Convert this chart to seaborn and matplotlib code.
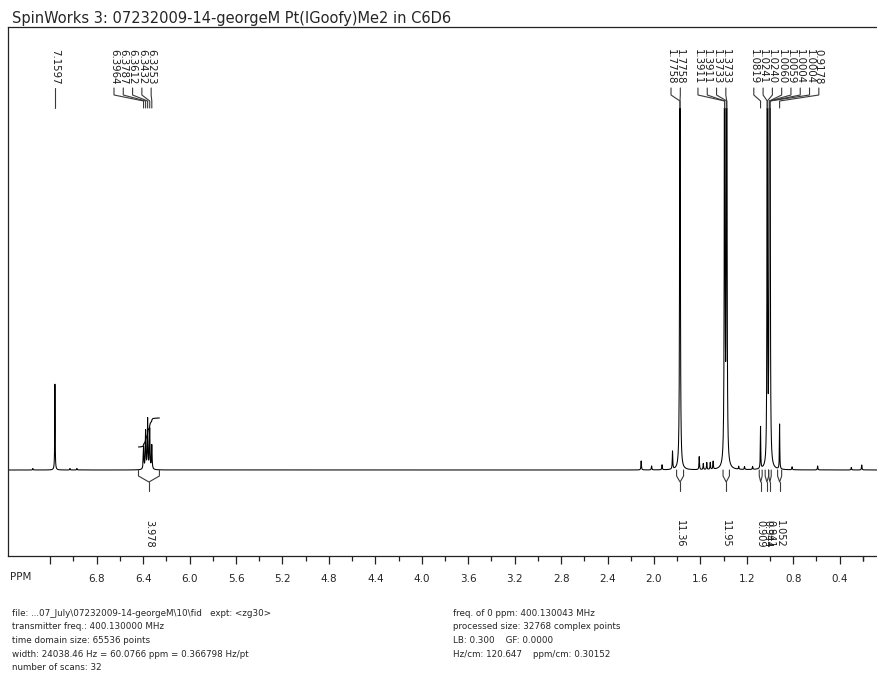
import numpy as np
import pandas as pd
import matplotlib
matplotlib.use("Agg")
import matplotlib.pyplot as plt
from matplotlib.patches import Rectangle
from matplotlib.ticker import FixedLocator
import seaborn as sns

# ---------------------------------------------------------------- data
title = "SpinWorks 3: 07232009-14-georgeM Pt(IGoofy)Me2 in C6D6"

# picked peaks: shift (ppm), height (display units above baseline), half-width (ppm)
peak_ppm = [7.1597, 6.3964, 6.3787, 6.3612, 6.3432, 6.3253,
            1.7758, 1.7758, 1.3911, 1.3911, 1.3733, 1.3733,
            1.0819, 1.0241, 1.0240, 1.0060, 1.0059, 1.0004, 1.0004, 0.9178]
peak_height = [86, 22, 38, 50, 40, 24,
               450, 450, 400, 400, 400, 400,
               42, 420, 420, 420, 420, 420, 420, 45]
peak_width = [0.0020, 0.0030, 0.0030, 0.0030, 0.0030, 0.0030,
              0.0022, 0.0022, 0.0024, 0.0024, 0.0024, 0.0024,
              0.0020, 0.0018, 0.0018, 0.0018, 0.0018, 0.0018, 0.0018, 0.0020]
peak_labels = ["7.1597", "6.3964", "6.3787", "6.3612", "6.3432", "6.3253",
               "1.7758", "1.7758", "1.3911", "1.3911", "1.3733", "1.3733",
               "1.0819", "1.0241", "1.0240", "1.0060", "1.0059", "1.0004", "1.0004", "0.9178"]
label_group = [0, 1, 1, 1, 1, 1, 2, 2, 3, 3, 3, 3, 4, 4, 4, 4, 4, 4, 4, 4]

# small unlabelled signals
minor_ppm = [7.35, 7.03, 6.97, 2.11, 2.02, 1.93, 1.84, 1.61, 1.575, 1.545,
             1.515, 1.49, 1.27, 1.22, 1.15, 0.81, 0.59, 0.30, 0.21]
minor_height = [1.5, 1.5, 1.5, 9, 4, 5, 18, 13, 6, 7, 7, 8, 3, 3, 3, 3, 4, 2.5, 5]

# integral regions (ppm) and their values
int_start = [6.44, 1.805, 1.405, 1.093, 1.042, 1.012, 0.935]
int_end = [6.26, 1.745, 1.350, 1.068, 1.012, 0.990, 0.900]
int_value = ["3.978", "11.36", "11.95", "0.909", "0.944", "0.941", "1.052"]

tick_labels = ["7.2", "6.8", "6.4", "6.0", "5.6", "5.2", "4.8", "4.4", "4.0",
               "3.6", "3.2", "2.8", "2.4", "2.0", "1.6", "1.2", "0.8", "0.4"]

footer_left = ["file: ...07_July\\07232009-14-georgeM\\10\\fid   expt: <zg30>",
               "transmitter freq.: 400.130000 MHz",
               "time domain size: 65536 points",
               "width: 24038.46 Hz = 60.0766 ppm = 0.366798 Hz/pt",
               "number of scans: 32"]
footer_right = ["freq. of 0 ppm: 400.130043 MHz",
                "processed size: 32768 complex points",
                "LB: 0.300    GF: 0.0000",
                "Hz/cm: 120.647    ppm/cm: 0.30152"]

# ---------------------------------------------------------------- layout
X_LEFT, X_RIGHT = 7.564, 0.053          # ppm at the frame edges
Y_BOTTOM, Y_TOP = -86, 443              # display units, baseline at 0
group_label_start = [7.1597, 6.651, 1.853, 1.621, 1.140]
label_step = 0.080
CLIP_TOP = 362

# ---------------------------------------------------------------- spectrum
ppm = np.arange(X_RIGHT, X_LEFT, 0.0002)
spec = np.zeros_like(ppm)
for c, h, w in zip(peak_ppm, peak_height, peak_width):
    spec += h / (1 + ((ppm - c) / w) ** 2)
for c, h in zip(minor_ppm, minor_height):
    spec += h / (1 + ((ppm - c) / 0.0025) ** 2)
df = pd.DataFrame({"ppm": ppm, "intensity": spec})

sns.set_style("white")
plt.rcParams["font.family"] = ["DejaVu Sans"]

fig = plt.figure(figsize=(8.77, 6.76), dpi=100)
W, H = 877, 676
ax = fig.add_axes([8 / W, (H - 556) / H, (880 - 8) / W, 529 / H])
ax.set_xlim(X_LEFT, X_RIGHT)
ax.set_ylim(Y_BOTTOM, Y_TOP)

sns.lineplot(data=df, x="ppm", y="intensity", ax=ax, color="black",
             linewidth=0.75, sort=False, estimator=None)
clip = Rectangle((X_RIGHT, Y_BOTTOM), X_LEFT - X_RIGHT, CLIP_TOP - Y_BOTTOM,
                 transform=ax.transData, facecolor="none", edgecolor="none")
ax.lines[-1].set_clip_path(clip)

# peak labels with fan-out connectors
slot = {}
for i, (p, lab, g) in enumerate(zip(peak_ppm, peak_labels, label_group)):
    k = slot.get(g, 0)
    slot[g] = k + 1
    lx = group_label_start[g] - k * label_step
    ax.text(lx, 421, lab, rotation=-90, ha="center", va="top",
            fontsize=7.3, color="#1a1a1a")
    ax.plot([lx, lx, p, p], [382, 375, 369, CLIP_TOP],
            color="#3a3a3a", linewidth=0.8, solid_joinstyle="miter")

# integral brackets and values
for a, b, v in zip(int_start, int_end, int_value):
    mid = (a + b) / 2
    ax.plot([a, a, mid, b, b], [0, -6, -12, -6, 0], color="#3a3a3a", linewidth=0.8)
    ax.plot([mid, mid], [-12, -21], color="#3a3a3a", linewidth=0.8)
    ax.text(mid, -50, v, rotation=-90, ha="center", va="top",
            fontsize=7, color="#1a1a1a")

# running integral over the olefinic multiplet
a, b = int_start[0], int_end[0]
sel = (df["ppm"] <= a) & (df["ppm"] >= b)
seg = df[sel].sort_values("ppm", ascending=False)
cum = np.cumsum(seg["intensity"].to_numpy())
cum = cum / cum[-1]
ax.plot(seg["ppm"], 23 + 29 * cum, color="black", linewidth=0.8)

# axis styling
for s in ax.spines.values():
    s.set_color("#222222")
    s.set_linewidth(0.9)
ax.set_yticks([])
major = [float(t) for t in tick_labels]
ax.xaxis.set_major_locator(FixedLocator(major))
ax.set_xticklabels(["" if t == "7.2" else t for t in tick_labels])
ax.xaxis.set_minor_locator(FixedLocator([round(m - 0.2, 1) for m in major] + [0.2]))
ax.tick_params(axis="x", which="major", direction="out", length=6, width=0.9,
               color="#222222", labelsize=7.5, pad=7, bottom=True)
ax.tick_params(axis="x", which="minor", direction="out", length=3.5, width=0.9,
               color="#222222", bottom=True)
ax.set_xlabel("")
ax.set_ylabel("")

fig.text(10 / W, 1 - 577 / H, "PPM", fontsize=7.5, va="center", ha="left")
fig.text(12 / W, 1 - 18 / H, title, fontsize=10.5, va="center", ha="left")

for i, line in enumerate(footer_left):
    fig.text(12 / W, 1 - (613 + 13.7 * i) / H, line, fontsize=6.3, va="center", ha="left")
for i, line in enumerate(footer_right):
    fig.text(453 / W, 1 - (613 + 13.7 * i) / H, line, fontsize=6.3, va="center", ha="left")

fig.savefig("out.png", dpi=100)
